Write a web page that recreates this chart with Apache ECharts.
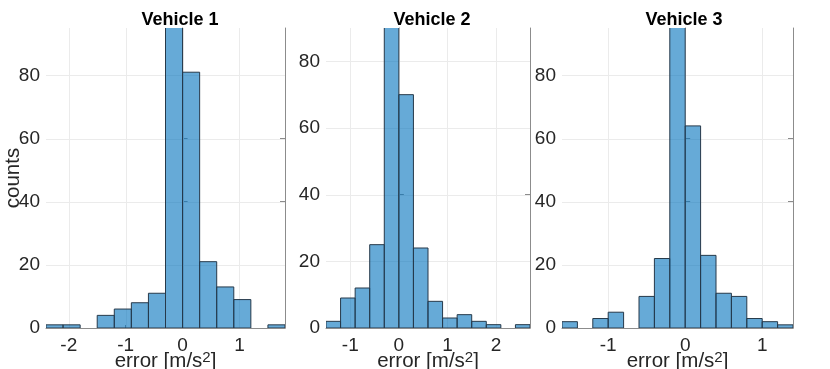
<!DOCTYPE html>
<html><head><meta charset="utf-8">
<script src="https://cdn.jsdelivr.net/npm/echarts@6/dist/echarts.min.js"></script>
<style>html,body{margin:0;padding:0;background:#fff}#c{width:830px;height:369px}</style>
</head><body><div id="c"></div>
<script>
const titles = ['Vehicle 1', 'Vehicle 2', 'Vehicle 3'];
const edges1 = [-2.4, -2.1, -1.8, -1.5, -1.2, -0.9, -0.6, -0.3, 0, 0.3, 0.6, 0.9, 1.2, 1.5, 1.8];
const counts1 = [1, 1, 0, 4, 6, 8, 11, 100, 81, 21, 13, 9, 0, 1];
const edges2 = [-1.5, -1.2, -0.9, -0.6, -0.3, 0, 0.3, 0.6, 0.9, 1.2, 1.5, 1.8, 2.1, 2.4, 2.7];
const counts2 = [2, 9, 12, 25, 96, 70, 24, 8, 3, 4, 2, 1, 0, 1];
const edges3 = [-1.6, -1.4, -1.2, -1.0, -0.8, -0.6, -0.4, -0.2, 0, 0.2, 0.4, 0.6, 0.8, 1.0, 1.2, 1.4];
const counts3 = [2, 0, 3, 5, 0, 10, 22, 100, 64, 23, 11, 10, 3, 2, 1];
const xTicks1 = [-2, -1, 0, 1];
const xTicks2 = [-1, 0, 1, 2];
const xTicks3 = [-1, 0, 1];
const yTicks = [0, 20, 40, 60, 80];
const xRanges = [[-2.4, 1.8], [-1.5, 2.7], [-1.6, 1.4]];
const yMaxes = [95, 90, 95];
const xLabelText = 'error [m/s{sup|2}]';
const yLabelText = 'counts';

const panels = [
  {edges: edges1, counts: counts1, xTicks: xTicks1},
  {edges: edges2, counts: counts2, xTicks: xTicks2},
  {edges: edges3, counts: counts3, xTicks: xTicks3}
];
const gridPos = [
  {left: 46, width: 239},
  {left: 326, width: 204},
  {left: 562, width: 231}
];
const titleCenters = [175, 427, 679];
const FONT = '"Liberation Sans", Arial, Helvetica, sans-serif';
const TXT = '#262626';
const AX = '#8c8c8c';
const GRIDC = '#ebebeb';

const option = {
  animation: false,
  backgroundColor: '#fff',
  textStyle: {fontFamily: FONT},
  title: titles.map((t, i) => ({
    text: t, left: titleCenters[i], top: 6, textAlign: 'center',
    textStyle: {fontSize: 18, fontWeight: 'bold', color: '#000', fontFamily: FONT}
  })),
  grid: gridPos.map(g => ({left: g.left, width: g.width, top: 28, height: 300,
    containLabel: false, outerBoundsMode: 'none'})),
  xAxis: [], yAxis: [], series: []
};

panels.forEach((p, i) => {
  option.xAxis.push({
    type: 'value', gridIndex: i, min: xRanges[i][0], max: xRanges[i][1],
    axisLine: {show: true, onZero: false, lineStyle: {color: AX, width: 1}},
    axisTick: {show: true, inside: true, length: 3, customValues: p.xTicks, lineStyle: {color: AX}},
    axisLabel: {customValues: p.xTicks, fontSize: 19, color: TXT, margin: 8, fontFamily: FONT},
    splitLine: {show: false},
    name: xLabelText, nameLocation: 'middle', nameGap: 22, nameMoveOverlap: false,
    nameTextStyle: {fontSize: 20.5, color: TXT, fontFamily: FONT, lineHeight: 23,
      rich: {sup: {fontSize: 15, verticalAlign: 'top', lineHeight: 14, color: TXT, fontFamily: FONT}}}
  });
  option.yAxis.push({
    type: 'value', gridIndex: i, min: 0, max: yMaxes[i], position: 'left',
    axisLine: {show: true, lineStyle: {color: AX, width: 1}},
    axisTick: {show: true, inside: true, length: 5, customValues: yTicks, lineStyle: {color: AX}},
    axisLabel: {customValues: yTicks, fontSize: 19, color: TXT, margin: 6, fontFamily: FONT},
    splitLine: {show: false},
    name: i === 0 ? yLabelText : '', nameLocation: 'middle', nameGap: 22, nameMoveOverlap: false,
    nameTextStyle: {fontSize: 20.5, color: TXT, fontFamily: FONT}
  });
  option.yAxis.push({
    type: 'value', gridIndex: i, min: 0, max: yMaxes[i], position: 'right',
    axisLine: {show: true, lineStyle: {color: AX, width: 1}},
    axisTick: {show: true, inside: true, length: 5, customValues: yTicks, lineStyle: {color: AX}},
    axisLabel: {show: false, customValues: yTicks},
    splitLine: {show: false}
  });
  const yIdx = i * 2;
  option.series.push({
    type: 'custom', xAxisIndex: i, yAxisIndex: yIdx, silent: true, z: 1,
    data: p.xTicks.map(v => [v, 0]),
    renderItem: (params, api) => {
      const pt = api.coord([api.value(0), 0]);
      const x = Math.round(pt[0]) + 0.5;
      return {type: 'line', shape: {x1: x, y1: params.coordSys.y, x2: x, y2: params.coordSys.y + params.coordSys.height},
        style: {stroke: GRIDC, lineWidth: 1}};
    }
  });
  option.series.push({
    type: 'custom', xAxisIndex: i, yAxisIndex: yIdx, silent: true, z: 1,
    data: yTicks.filter(v => v > 0).map(v => [xRanges[i][0], v]),
    renderItem: (params, api) => {
      const pt = api.coord([api.value(0), api.value(1)]);
      const y = Math.round(pt[1]) + 0.5;
      return {type: 'line', shape: {x1: params.coordSys.x, y1: y, x2: params.coordSys.x + params.coordSys.width, y2: y},
        style: {stroke: GRIDC, lineWidth: 1}};
    }
  });
  option.series.push({
    type: 'custom', xAxisIndex: i, yAxisIndex: yIdx, z: 2, clip: true,
    data: p.counts.map((c, k) => [p.edges[k], p.edges[k + 1], c]),
    encode: {x: [0, 1], y: 2},
    renderItem: (params, api) => {
      const c = api.value(2);
      if (!c) return null;
      const p0 = api.coord([api.value(0), 0]);
      const p1 = api.coord([api.value(1), c]);
      const cs = params.coordSys;
      const top = Math.max(p1[1], cs.y - 2);
      return {type: 'rect',
        shape: {x: p0[0], y: top, width: p1[0] - p0[0], height: p0[1] - top},
        style: {fill: 'rgba(0,114,189,0.6)', stroke: '#26394a', lineWidth: 1}};
    }
  });
});

const chart = echarts.init(document.getElementById('c'), null, {renderer: 'canvas'});
chart.setOption(option);
</script>
</body></html>
